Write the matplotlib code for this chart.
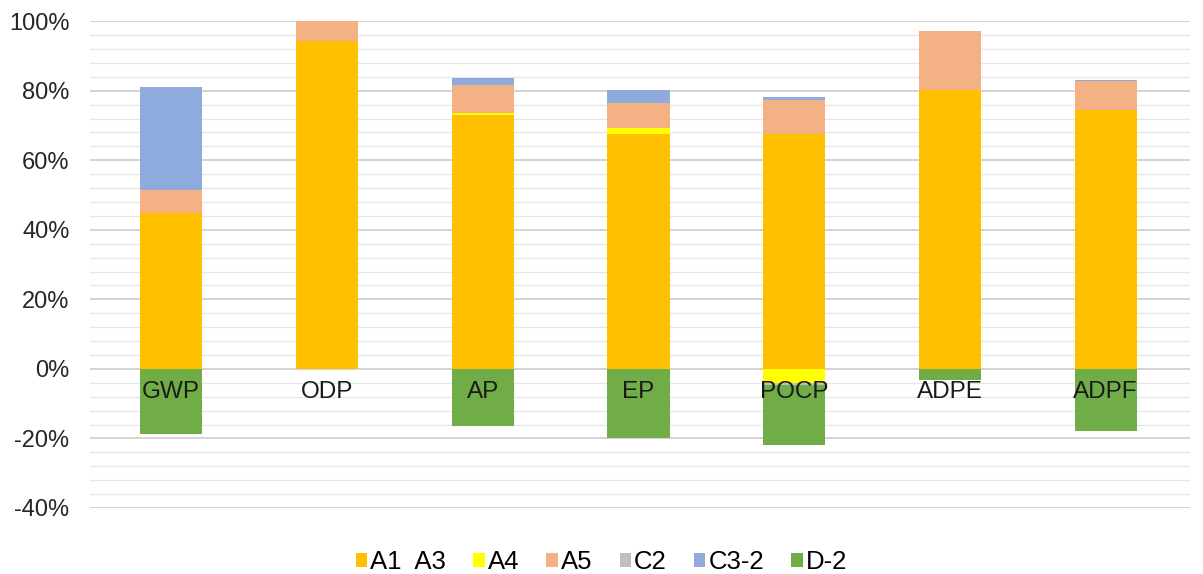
import matplotlib.pyplot as plt
import numpy as np
from matplotlib.ticker import MultipleLocator, FuncFormatter

plt.rcParams['font.family'] = ['Liberation Sans', 'DejaVu Sans']

categories = ['GWP', 'ODP', 'AP', 'EP', 'POCP', 'ADPE', 'ADPF']
series_names = ['A1  A3', 'A4', 'A5', 'C2', 'C3-2', 'D-2']
a1_a3 = [44.8, 94.3, 73.0, 67.5, 67.5, 80.2, 74.4]
a4 = [0.0, 0.0, 0.5, 1.8, -4.0, 0.0, 0.0]
a5 = [6.6, 5.7, 8.3, 7.1, 9.8, 16.9, 8.4]
c2 = [0.0, 0.0, 0.0, 0.0, -0.5, 0.0, 0.0]
c3_2 = [29.6, 0.0, 2.0, 3.8, 0.9, 0.0, 0.3]
d_2 = [-18.7, 0.0, -16.4, -19.8, -17.3, -3.2, -17.8]
colors = ['#FFC000', '#FFFF00', '#F4B183', '#BFBFBF', '#8FAADC', '#70AD47']


def main():
    fig = plt.figure(figsize=(12.03, 5.74), dpi=100)
    ax = fig.add_axes([0.075, 0.115, 0.914, 0.848])

    x = np.arange(len(categories))
    pos_bottom = np.zeros(len(categories))
    neg_bottom = np.zeros(len(categories))
    for name, vals, col in zip(series_names, [a1_a3, a4, a5, c2, c3_2, d_2], colors):
        v = np.array(vals)
        bottom = np.where(v >= 0, pos_bottom, neg_bottom)
        ax.bar(x, v, 0.4, bottom=bottom, color=col, label=name, zorder=3)
        pos_bottom += np.clip(v, 0, None)
        neg_bottom += np.clip(v, None, 0)

    for xi, cat in zip(x, categories):
        ax.text(xi, -6.6, cat, ha='center', va='center', fontsize=17.5,
                color='#1a1a1a', zorder=4)

    ax.set_xlim(-0.52, 6.54)
    ax.set_ylim(-40, 100)
    ax.yaxis.set_major_locator(MultipleLocator(20))
    ax.yaxis.set_minor_locator(MultipleLocator(4))
    ax.yaxis.set_major_formatter(FuncFormatter(lambda v, p: '%d%%' % v))
    ax.grid(axis='y', which='major', color='#C8C8C8', linewidth=1.1, zorder=0)
    ax.grid(axis='y', which='minor', color='#E6E6E6', linewidth=0.9, zorder=0)
    ax.set_xticks([])
    ax.tick_params(axis='y', which='both', length=0, labelsize=17,
                   labelcolor='#262626', pad=15)
    for s in ax.spines.values():
        s.set_visible(False)

    fig.legend(loc='center', bbox_to_anchor=(0.5, 0.021), ncol=6, frameon=False,
               fontsize=18.5, handlelength=0.45, handleheight=0.45,
               handletextpad=0.12, columnspacing=1.05)

    fig.savefig('out.png', dpi=100)


if __name__ == '__main__':
    main()
